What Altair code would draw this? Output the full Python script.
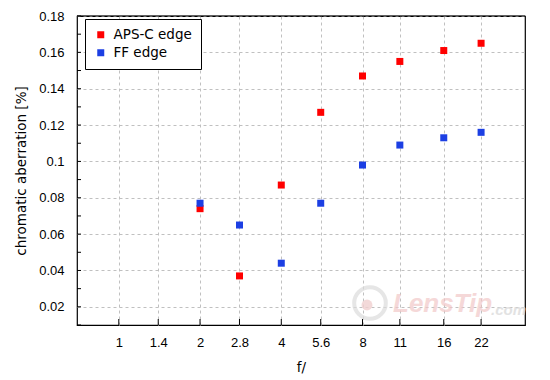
import altair as alt
import pandas as pd

fstops = [2, 2.8, 4, 5.6, 8, 11, 16, 22]
aps_c = [0.074, 0.037, 0.087, 0.127, 0.147, 0.155, 0.161, 0.165]
ff = [0.077, 0.065, 0.044, 0.077, 0.098, 0.109, 0.113, 0.116]
series_names = ["APS-C edge", "FF edge"]
series_colors = ["#ff0000", "#1c3fe3"]
x_ticks = [1, 1.4, 2, 2.8, 4, 5.6, 8, 11, 16, 22]
y_ticks = [0.02, 0.04, 0.06, 0.08, 0.1, 0.12, 0.14, 0.16, 0.18]
y_minor = [0.01, 0.02, 0.03, 0.04, 0.05, 0.06, 0.07, 0.08, 0.09, 0.10,
           0.11, 0.12, 0.13, 0.14, 0.15, 0.16, 0.17, 0.18]

rows = []
for f, v in zip(fstops, aps_c):
    rows.append({"f": f, "v": v, "s": series_names[0]})
for f, v in zip(fstops, ff):
    rows.append({"f": f, "v": v, "s": series_names[1]})
df = pd.DataFrame(rows)

FONT = "Liberation Sans"
TFONT = "DejaVu Sans"
xscale = alt.Scale(type="log", base=2, domain=[0.7, 32], nice=False)
yscale = alt.Scale(domain=[0.01, 0.18], nice=False, zero=False)
xaxis = alt.Axis(values=x_ticks, labelExpr="datum.value", tickSize=0,
                 labelPadding=11, grid=True, gridDash=[3, 3],
                 gridColor="#c0c0c0", domain=False, titlePadding=11,
                 labelFlush=False)
yaxis = alt.Axis(values=y_ticks, labelExpr="datum.value", tickSize=0,
                 labelPadding=13, grid=True, gridDash=[3, 3],
                 gridColor="#c0c0c0", domain=False, titlePadding=10)
XT = "f/"
YT = "chromatic aberration [%]"

points = alt.Chart(df).mark_square(size=49, opacity=1).encode(
    x=alt.X("f:Q", scale=xscale, title=XT, axis=xaxis),
    y=alt.Y("v:Q", scale=yscale, title=YT, axis=yaxis),
    color=alt.Color("s:N", scale=alt.Scale(domain=series_names, range=series_colors),
                    legend=alt.Legend(title=None, orient="none", legendX=8, legendY=3,
                                      strokeColor="black", fillColor="white",
                                      padding=9, symbolType="square", symbolSize=49,
                                      labelFontSize=13.5, labelFont=TFONT,
                                      rowPadding=3, symbolOffset=0,
                                      labelOffset=6)),
    order=alt.Order("s:N"),
)

xt = alt.Chart(pd.DataFrame({"t": x_ticks})).mark_rule(color="black").encode(
    x=alt.X("t:Q", scale=xscale, title=XT, axis=xaxis),
    y=alt.value(309), y2=alt.value(303),
)
yt = alt.Chart(pd.DataFrame({"t": y_minor})).mark_rule(color="black").encode(
    y=alt.Y("t:Q", scale=yscale, title=YT, axis=yaxis),
    x=alt.value(0), x2=alt.value(4),
)
top = alt.Chart(pd.DataFrame({"w": [1]})).mark_rule(color="black", strokeWidth=1.2).encode(
    x=alt.value(0), x2=alt.value(448), y=alt.value(0))

wmc = alt.Chart(pd.DataFrame({"w": [1]})).mark_point(
    shape="circle", size=1000, color="#dcdcdc", strokeWidth=4, filled=False,
    opacity=0.7).encode(x=alt.value(293), y=alt.value(287))
wmd = alt.Chart(pd.DataFrame({"w": [1]})).mark_point(
    shape="circle", size=120, color="#f0d0d0", filled=True, opacity=0.8).encode(
    x=alt.value(290), y=alt.value(289))
wm = alt.Chart(pd.DataFrame({"w": ["LensTip"]})).mark_text(
    font=FONT, fontSize=26, fontStyle="italic", fontWeight="bold",
    color="#f2c8c8", opacity=0.7, align="left", baseline="middle").encode(
    x=alt.value(316), y=alt.value(288), text="w:N")
wm2 = alt.Chart(pd.DataFrame({"w": [".com"]})).mark_text(
    font=FONT, fontSize=15, fontStyle="italic", fontWeight="bold",
    color="#dcdcdc", opacity=0.8, align="left", baseline="middle").encode(
    x=alt.value(414), y=alt.value(294), text="w:N")

chart = alt.layer(wmc, wmd, wm, wm2, points, xt, yt, top).properties(
    width=448, height=309, autosize="none",
    padding={"left": 77, "top": 16, "right": 25, "bottom": 55},
).configure_view(stroke="black", strokeWidth=1.2).configure_axis(
    labelFont=FONT, titleFont=TFONT, labelFontSize=13, titleFontSize=13.5,
    labelColor="black", titleColor="black", titleFontWeight="normal",
)

chart.save("out.html", embed_options={"renderer": "svg", "actions": False})
